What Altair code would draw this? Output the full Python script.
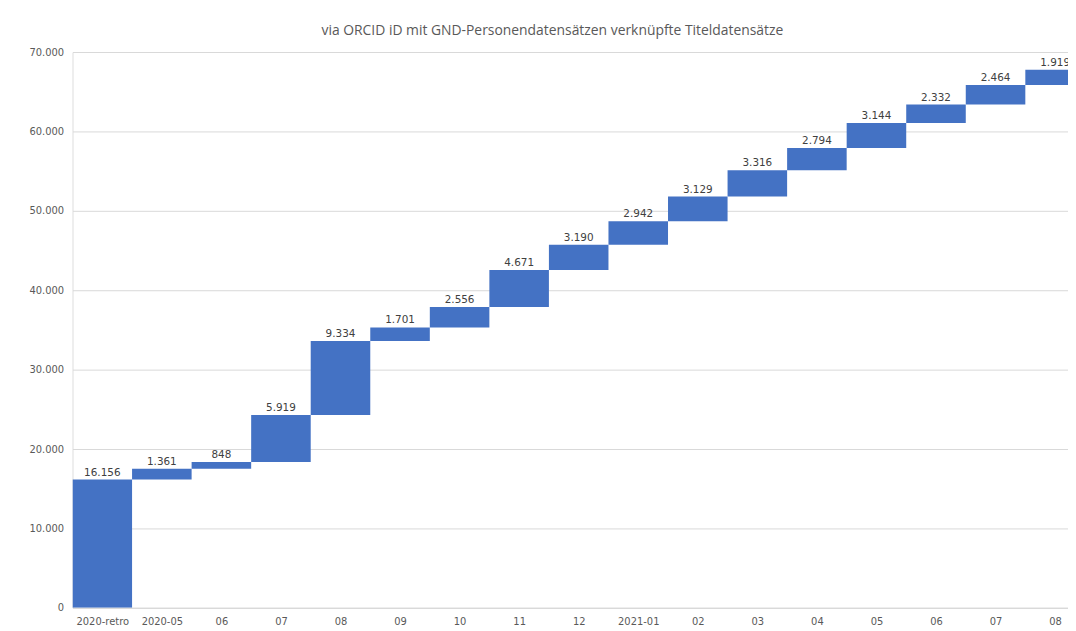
import json
import altair as alt
import pandas as pd

categories = ["2020-retro", "2020-05", "06", "07", "08", "09", "10", "11", "12",
              "2021-01", "02", "03", "04", "05", "06", "07", "08"]
values = [16156, 1361, 848, 5919, 9334, 1701, 2556, 4671, 3190,
          2942, 3129, 3316, 2794, 3144, 2332, 2464, 1919]
y_ticks = [0, 10000, 20000, 30000, 40000, 50000, 60000, 70000]

rows = []
total = 0
for i, (c, v) in enumerate(zip(categories, values)):
    rows.append({"idx": i, "x0": i, "x1": i + 1, "xm": i + 0.5, "cat": c,
                 "start": total, "end": total + v, "value": v})
    total += v
df = pd.DataFrame(rows)

PLOT_W = 1003
PLOT_H = 560
BAND = 60
x_max = PLOT_W / BAND

label_arr = json.dumps(categories)
x_scale = alt.Scale(domain=[0, x_max], nice=False, zero=False)
y_scale = alt.Scale(domain=[0, 70000], nice=False)

base = alt.Chart(df)

bars = base.mark_bar(color="#4472C4", clip=True).encode(
    x=alt.X("x0:Q", scale=x_scale,
            axis=alt.Axis(values=[r["xm"] for r in rows],
                          labelExpr=f"{label_arr}[floor(datum.value)]",
                          title=None, grid=False, ticks=False,
                          domainColor="#d9d9d9", labelColor="#595959",
                          labelFont="DejaVu Sans", labelFontSize=10,
                          labelPadding=9, labelAngle=0, labelFlush=False,
                          labelOverlap=False)),
    x2="x1:Q",
    y=alt.Y("start:Q", scale=y_scale,
            axis=alt.Axis(values=y_ticks, title=None, grid=True,
                          gridColor="#d9d9d9", domain=False, ticks=False,
                          labelExpr="replace(format(datum.value, ',.0f'), ',', '.')",
                          labelColor="#595959", labelFont="DejaVu Sans",
                          labelFontSize=10, labelPadding=9)),
    y2="end:Q",
)

texts = base.transform_calculate(
    lbl="replace(format(datum.value, ',.0f'), ',', '.')"
).mark_text(baseline="alphabetic", dy=-4, font="DejaVu Sans", fontSize=10.5,
            color="#404040").encode(
    x=alt.X("xm:Q", scale=x_scale),
    y=alt.Y("end:Q", scale=y_scale),
    text="lbl:N",
)

chart = alt.layer(bars, texts).properties(
    width=PLOT_W, height=PLOT_H,
    title=alt.TitleParams(
        "via ORCID iD mit GND-Personendatensätzen verknüpfte Titeldatensätze",
        font="Open Sans", fontSize=14, fontWeight="normal", color="#595959",
        anchor="middle", dx=-18, offset=9),
    autosize=alt.AutoSizeParams(type="none"),
    padding={"left": 65, "top": 42, "right": 0, "bottom": 23},
).configure_view(stroke=None).configure(background="white")

chart.save("out.html", embed_options={"renderer": "svg", "actions": False})
